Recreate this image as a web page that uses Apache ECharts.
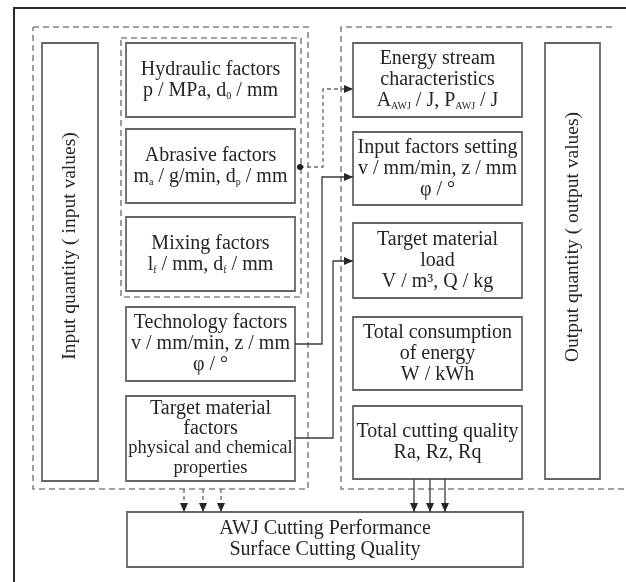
<!DOCTYPE html>
<html><head><meta charset="utf-8">
<script src="https://cdn.jsdelivr.net/npm/echarts@6/dist/echarts.min.js"></script>
<style>html,body{margin:0;padding:0;background:#fff}#c{width:626px;height:582px}</style>
</head><body><div id="c"></div>
<script>
// ---- diagram data (diagram units = axis units) ----
const solidBoxes = [
  [126, 43, 295, 117], [126, 129, 295, 203], [126, 217, 295, 291],
  [126, 307, 295, 381], [126, 396, 295, 481],
  [353, 43, 522, 117], [353, 132, 522, 205], [353, 223, 522, 298],
  [353, 317, 522, 390], [353, 406, 522, 479],
  [127, 512, 523, 567]
];
const boxTexts = [
  'Hydraulic factors\np / MPa, d{s|0} / mm',
  'Abrasive factors\nm{s|a} / g/min, d{s|p} / mm',
  'Mixing factors\nl{s|f} / mm, d{s|f} / mm',
  'Technology factors\nv / mm/min, z / mm\nφ / °',
  '{q|Target material}\n{q|factors}\n{r|physical and chemical}\n{r|properties}',
  'Energy stream\ncharacteristics\nA{s|AWJ} / J, P{s|AWJ} / J',
  'Input factors setting\nv / mm/min, z / mm\nφ / °',
  'Target material\nload\nV / m³, Q / kg',
  'Total consumption\nof energy\nW / kWh',
  'Total cutting quality\nRa, Rz, Rq',
  'AWJ Cutting Performance\nSurface Cutting Quality'
];
const sideBoxes = [[42, 43, 98, 481], [545, 43, 600, 479]];
const sideTexts = ['Input quantity ( input values)', 'Output quantity ( output values)'];
const sideTextY = [246, 237];
const dashedFrames = [
  [[33, 27], [308, 27], [308, 489], [33, 489], [33, 27]],
  [[121, 38], [301, 38], [301, 297], [121, 297], [121, 38]],
  [[612, 27], [341, 27], [341, 489], [626, 489]]
];
const dashedArrows = [
  [[300, 167], [323, 167], [323, 89], [353, 89]],
  [[184, 489], [184, 512]], [[203, 489], [203, 512]], [[221, 489], [221, 512]]
];
const solidArrows = [
  [[295, 344], [322, 344], [322, 177], [353, 177]],
  [[295, 438], [333, 438], [333, 261], [353, 261]],
  [[414, 479], [414, 512]], [[430, 479], [430, 512]], [[445, 479], [445, 512]]
];
const junctionDots = [[300, 167]];
const frameLines = [[[14, 582], [14, 8], [626, 8]]];

// ---- rendering ----
const FONT = '"Liberation Serif", "Times New Roman", serif';
const TXT = '#252525';
const rich = {
  s: { fontSize: 10, lineHeight: 10, verticalAlign: 'bottom', fontFamily: FONT, fill: TXT },
  q: { fontSize: 20, lineHeight: 20, fontFamily: FONT, fill: TXT },
  r: { fontSize: 18.5, lineHeight: 20, fontFamily: FONT, fill: TXT }
};

function boxRender(params, api) {
  const i = params.dataIndex;
  const p0 = api.coord([api.value(0), api.value(1)]);
  const p1 = api.coord([api.value(2), api.value(3)]);
  return { type: 'group', children: [
    { type: 'rect', shape: { x: p0[0], y: p0[1], width: p1[0] - p0[0], height: p1[1] - p0[1] },
      style: { fill: '#fff', stroke: '#666', lineWidth: 1.8 } },
    { type: 'text', x: (p0[0] + p1[0]) / 2, y: (p0[1] + p1[1]) / 2,
      style: { text: boxTexts[i], align: 'center', verticalAlign: 'middle', fontSize: 20,
               lineHeight: 21, fontFamily: FONT, fill: TXT, rich: rich } }
  ]};
}
function sideRender(params, api) {
  const i = params.dataIndex;
  const p0 = api.coord([api.value(0), api.value(1)]);
  const p1 = api.coord([api.value(2), api.value(3)]);
  const c = api.coord([0, sideTextY[i]]);
  return { type: 'group', children: [
    { type: 'rect', shape: { x: p0[0], y: p0[1], width: p1[0] - p0[0], height: p1[1] - p0[1] },
      style: { fill: '#fff', stroke: '#666', lineWidth: 1.8 } },
    { type: 'text', x: (p0[0] + p1[0]) / 2, y: c[1], rotation: Math.PI / 2,
      style: { text: sideTexts[i], align: 'center', verticalAlign: 'middle', fontSize: 19.5,
               fontFamily: FONT, fill: TXT } }
  ]};
}
function pathRender(paths, color, width, dash, arrow) {
  return function (params, api) {
    const pts = paths[params.dataIndex].map(p => api.coord(p));
    const children = [{ type: 'polyline', shape: { points: pts },
      style: { fill: null, stroke: color, lineWidth: width, lineDash: dash } }];
    if (arrow) {
      const a = pts[pts.length - 2], b = pts[pts.length - 1];
      const dx = b[0] - a[0], dy = b[1] - a[1], L = Math.hypot(dx, dy);
      const ux = dx / L, uy = dy / L, len = 9, w = 4;
      const bx = b[0] - ux * len, by = b[1] - uy * len;
      children.push({ type: 'polygon', shape: { points: [[b[0], b[1]], [bx - uy * w, by + ux * w], [bx + uy * w, by - ux * w]] },
        style: { fill: '#262626' } });
    }
    return { type: 'group', children };
  };
}
function idx(arr) { return arr.map((_, i) => [i, i]); }

const chart = echarts.init(document.getElementById('c'), null, { renderer: 'canvas' });
chart.setOption({
  backgroundColor: '#fff',
  animation: false,
  grid: { left: 0, right: 0, top: 0, bottom: 0 },
  xAxis: { type: 'value', min: 0, max: 626, show: false },
  yAxis: { type: 'value', min: 0, max: 582, inverse: true, show: false },
  tooltip: { show: false },
  series: [
    { type: 'custom', name: 'frame', data: idx(frameLines), z: 1,
      renderItem: pathRender(frameLines, '#2a2a2a', 2, null, false) },
    { type: 'custom', name: 'dashedFrames', data: idx(dashedFrames), z: 2,
      renderItem: pathRender(dashedFrames, '#858585', 1.6, [6, 4], false) },
    { type: 'custom', name: 'boxes', data: solidBoxes, z: 3, renderItem: boxRender },
    { type: 'custom', name: 'sideBoxes', data: sideBoxes, z: 3, renderItem: sideRender },
    { type: 'custom', name: 'dashedArrows', data: idx(dashedArrows), z: 4,
      renderItem: pathRender(dashedArrows, '#6a6a6a', 1.3, [4, 3], true) },
    { type: 'custom', name: 'solidArrows', data: idx(solidArrows), z: 4,
      renderItem: pathRender(solidArrows, '#3a3a3a', 1.3, null, true) },
    { type: 'custom', name: 'dots', data: junctionDots, z: 5,
      renderItem: function (params, api) {
        const p = api.coord([api.value(0), api.value(1)]);
        return { type: 'circle', shape: { cx: p[0], cy: p[1], r: 3 }, style: { fill: '#1e1e1e' } };
      } }
  ]
});
</script></body></html>
